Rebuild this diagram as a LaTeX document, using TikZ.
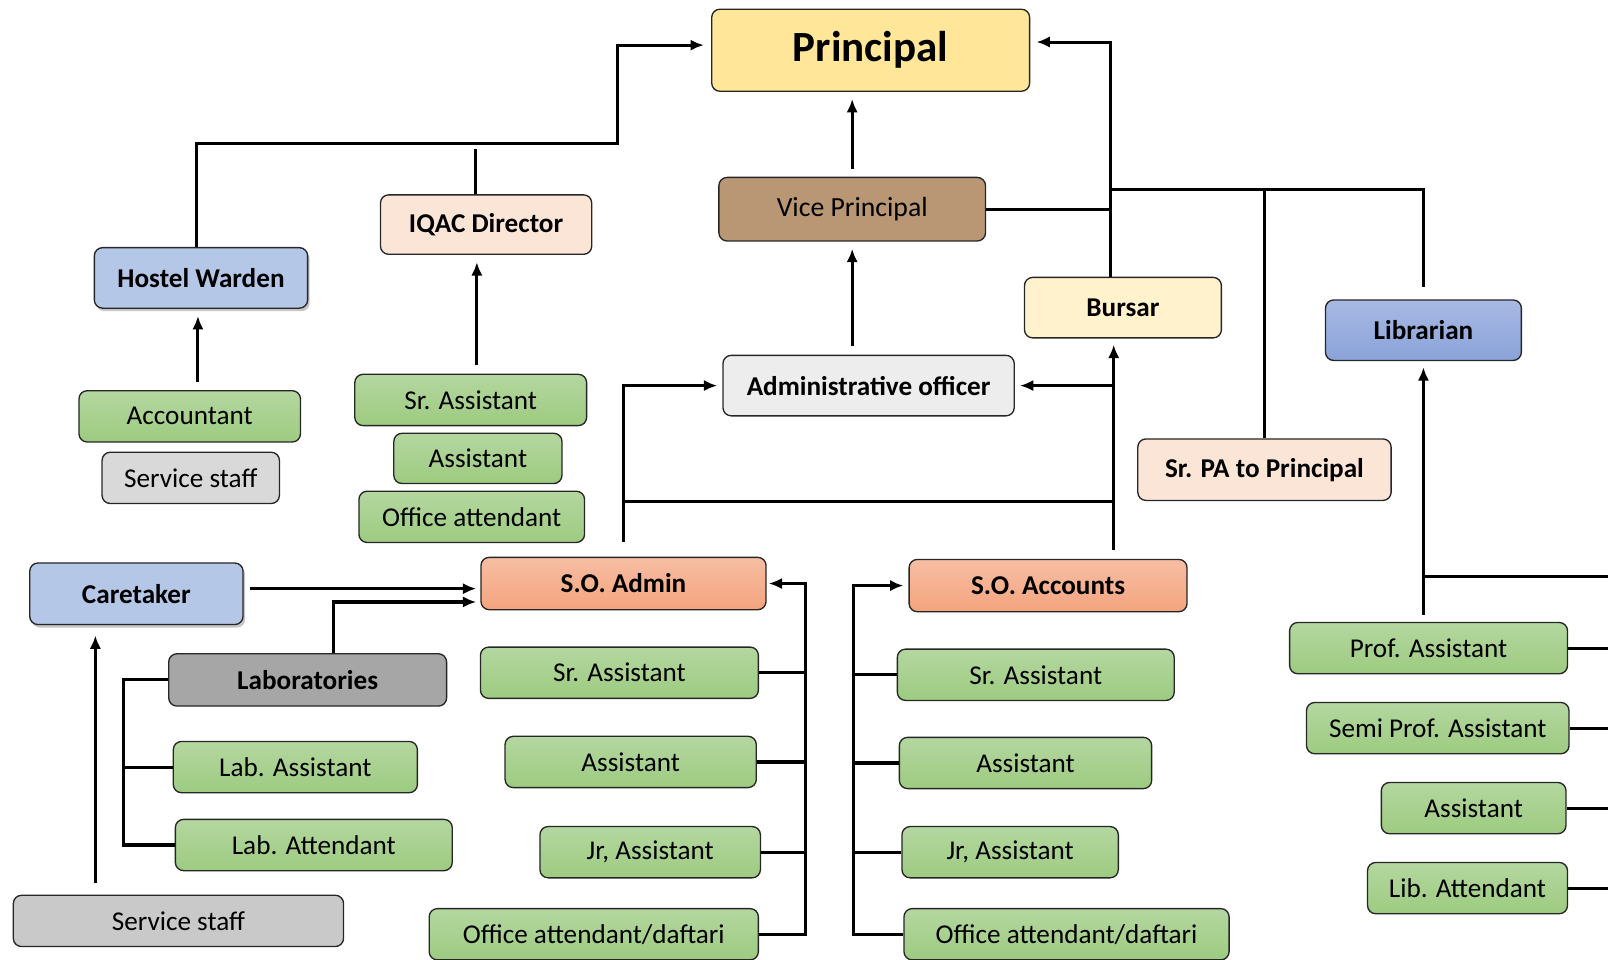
\documentclass[tikz,border=0pt]{standalone}
\usepackage{fontspec}
\setmainfont{Carlito}
\usetikzlibrary{arrows.meta,shadows}

\definecolor{principalFill}{HTML}{FFE699}
\definecolor{vpFill}{HTML}{B99774}
\definecolor{peachFill}{HTML}{FBE5D6}
\definecolor{wardenFill}{HTML}{B4C7E7}
\definecolor{bursarFill}{HTML}{FFF2CC}
\definecolor{adminFill}{HTML}{EDEDED}
\definecolor{servFill}{HTML}{D9D9D9}
\definecolor{servFillB}{HTML}{C9C9C9}
\definecolor{labFill}{HTML}{A6A6A6}
\definecolor{greenTop}{HTML}{B4D7A0}
\definecolor{greenBot}{HTML}{9DCB80}
\definecolor{soTop}{HTML}{F7BEA3}
\definecolor{soBot}{HTML}{F4A47E}
\definecolor{libTop}{HTML}{A8B9E3}
\definecolor{libBot}{HTML}{8AA3D9}

\begin{document}
\begin{tikzpicture}[x=1pt, y=-1pt, line width=3pt, >={Latex[length=13pt,width=11pt]},
    post/.style = {draw=black!85, line width=1.3pt, rounded corners=8pt, inner sep=0pt,
                   font=\fontsize{26.5}{29}\selectfont},
    head/.style = {post, font=\fontsize{26.5}{29}\selectfont\bfseries},
    staff/.style = {post, top color=greenTop, bottom color=greenBot},
    so/.style = {head, top color=soTop, bottom color=soBot},
    shade/.style = {drop shadow={opacity=0.45, shadow xshift=2pt, shadow yshift=-3pt}},
    feed/.style = {->, shorten <=8pt, shorten >=7pt}]
\useasboundingbox (0,0) rectangle (1568,936);

% top level
\node[head, fill=principalFill, minimum width=310, minimum height=80, font=\fontsize{42}{46}\selectfont\bfseries] (principal) at (849,49) {Principal};
\node[post, fill=vpFill, minimum width=260, minimum height=62, font=\fontsize{27}{30}\selectfont] (vp) at (831,204) {Vice Principal};
\node[head, fill=peachFill, minimum width=206, minimum height=58] (iqac) at (474,219) {IQAC Director};
\node[head, fill=wardenFill, shade, minimum width=208, minimum height=59] (warden) at (196,271) {Hostel Warden};
\node[head, fill=bursarFill, minimum width=192, minimum height=59] (bursar) at (1095,300) {Bursar};
\node[head, top color=libTop, bottom color=libBot, minimum width=191, minimum height=59] (librarian) at (1388,322) {Librarian};
\node[head, fill=adminFill, minimum width=284, minimum height=59] (admin) at (847,376) {Administrative officer};
\node[head, fill=peachFill, minimum width=247, minimum height=60] (srpa) at (1233,458) {Sr. PA to Principal};

% hostel and iqac staff
\node[staff, minimum width=216, minimum height=50] (acct) at (185,406) {Accountant};
\node[post, fill=servFill, minimum width=173, minimum height=50] (servA) at (186,466) {Service staff};
\node[staff, minimum width=226, minimum height=50] (iqsr) at (459,390) {Sr. Assistant};
\node[staff, minimum width=164, minimum height=49] (iqas) at (466,447) {Assistant};
\node[staff, minimum width=220, minimum height=50] (iqoff) at (460,504) {Office attendant};

% lower left
\node[head, fill=wardenFill, shade, minimum width=208, minimum height=60] (caretaker) at (133,579) {Caretaker};
\node[head, fill=labFill, minimum width=271, minimum height=51] (lab) at (300,663) {Laboratories};
\node[staff, minimum width=238, minimum height=50] (labas) at (288,748) {Lab. Assistant};
\node[staff, minimum width=270, minimum height=50] (labat) at (306,824) {Lab. Attendant};
\node[post, fill=servFillB, minimum width=322, minimum height=50] (servB) at (174,898) {Service staff};

% s.o. admin
\node[so, minimum width=278, minimum height=51] (soadmin) at (608,569) {S.O. Admin};
\node[staff, minimum width=271, minimum height=50] (adsr) at (604,656) {Sr. Assistant};
\node[staff, minimum width=245, minimum height=50] (adas) at (615,743) {Assistant};
\node[staff, minimum width=215, minimum height=50] (adjr) at (634,831) {Jr, Assistant};
\node[staff, minimum width=321, minimum height=50] (adoff) at (579,911) {Office attendant/daftari};

% s.o. accounts
\node[so, minimum width=271, minimum height=51] (soacc) at (1022,571) {S.O. Accounts};
\node[staff, minimum width=270, minimum height=50] (acsr) at (1010,658) {Sr. Assistant};
\node[staff, minimum width=246, minimum height=50] (acas) at (1000,744) {Assistant};
\node[staff, minimum width=211, minimum height=50] (acjr) at (985,831) {Jr, Assistant};
\node[staff, minimum width=317, minimum height=50] (acoff) at (1040,911) {Office attendant/daftari};

% library
\node[staff, minimum width=271, minimum height=50] (lprof) at (1393,632) {Prof. Assistant};
\node[staff, minimum width=256, minimum height=50] (lsemi) at (1402,710) {Semi Prof. Assistant};
\node[staff, minimum width=180, minimum height=50] (lass) at (1437,788) {Assistant};
\node[staff, minimum width=195, minimum height=50] (latt) at (1431,866) {Lib. Attendant};

% helper points
\coordinate (trunk) at (1083,185);
\coordinate (bus) at (1086,489);
\coordinate (ab) at ([xshift=38pt]soadmin.east);
\coordinate (cb) at ([xshift=-54pt]soacc.west);
\coordinate (edge) at (1568,562);

% connectors
\draw[->, shorten >=7pt] ([xshift=-4pt]warden.north) |- (602,140) |- ([yshift=5pt]principal.west);
\draw ([xshift=-10pt]iqac.north) -- ++(0,-44);
\draw[feed] (vp.north) -- (vp.north |- principal.south);
\draw[feed] (vp.south |- admin.north) -- (vp.south);
\draw[feed] ([xshift=-3pt]warden.south |- acct.north) -- ([xshift=-3pt]warden.south);
\draw[feed] ([xshift=-9pt]iqac.south |- iqsr.north) -- ([xshift=-9pt]iqac.south);

\draw (vp.east) -- (vp.east -| trunk);
\draw[->, shorten >=6pt] (bursar.north -| trunk) |- ([yshift=8pt]principal.east);
\draw (trunk) -| ([yshift=12pt]librarian.north);
\draw (srpa.north |- trunk) -- (srpa.north);

\draw[->, shorten >=6pt] ([yshift=9pt]soacc.north -| bus) -- (bursar.south -| bus);
\draw[->, shorten >=5pt] (admin.east -| bus) -- (admin.east);
\draw (bus) -- (bus -| soadmin.north);
\draw[->, shorten <=14pt, shorten >=5pt] (soadmin.north) |- (admin.west);

\draw[->, shorten <=6pt, shorten >=4pt] ([yshift=-5pt]soadmin.west -| caretaker.east) -- ([yshift=-5pt]soadmin.west);
\draw[->, shorten >=4pt] ([xshift=25pt]lab.north) |- ([yshift=-18pt]soadmin.west);
\draw[->, shorten <=11pt, shorten >=10pt] ([xshift=-40pt]caretaker.south |- servB.north) -- ([xshift=-40pt]caretaker.south);

\draw (lab.west) -| ([xshift=-50pt]labat.west) -- (labat.west);
\draw (labas.west) -- ++(-49,0);

\draw[->, shorten >=2pt] (adoff.east) -| (ab) -- (soadmin.east);
\foreach \n in {adsr,adas,adjr}
  \draw (\n.east) -- (\n.east -| ab);

\draw[->, shorten >=5pt] (acoff.west) -| (cb) -- (soacc.west);
\foreach \n in {acsr,acas,acjr}
  \draw (\n.west) -- (\n.west -| cb);

\draw[->, shorten <=7pt, shorten >=6pt] (lprof.north -| librarian.south) -- (librarian.south);
\draw (edge -| librarian.south) -- (edge);
\foreach \n in {lprof,lsemi,lass,latt}
  \draw (\n.east) -- (\n.east -| edge);
\end{tikzpicture}
\end{document}
